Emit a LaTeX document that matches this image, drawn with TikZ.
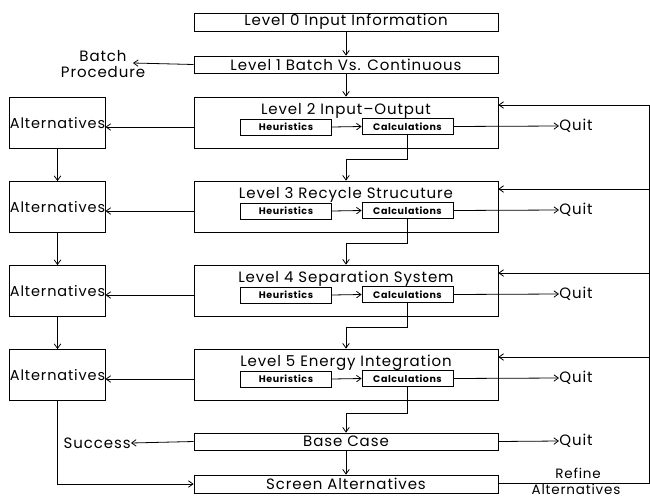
\documentclass[tikz,border=0pt]{standalone}
\usepackage{fontspec}
\setmainfont[LetterSpace=6]{Poppins}
\usetikzlibrary{arrows.meta,positioning,calc}
\begin{document}
\begin{tikzpicture}[x=1pt,y=-1pt,
  line width=0.8pt,
  >={Straight Barb[length=4.5pt,width=6.5pt]},
  lvl/.style={draw,minimum width=304pt,inner sep=0pt,font=\fontsize{15}{16}\selectfont},
  bigbox/.style={draw,minimum width=304pt,minimum height=51pt,inner sep=0pt},
  alt/.style={draw,minimum width=91pt,minimum height=51pt,inner sep=0pt,font=\fontsize{14.5}{16}\selectfont},
  small/.style={draw,minimum width=91pt,minimum height=16pt,inner sep=0pt,font=\bfseries\fontsize{9.5}{11}\selectfont},
  ttl/.style={font=\fontsize{15}{16}\selectfont,inner sep=0pt},
  lbl/.style={font=\fontsize{15}{16}\selectfont,inner sep=0pt,align=center}
]
\useasboundingbox (0,0) rectangle (650,498);
% top levels
\node[lvl,minimum height=18pt] (L0) at (346,22) {Level 0 Input Information};
\node[lvl,minimum height=17pt] (L1) at (346,64.5) {Level 1 Batch Vs. Continuous};
\node[lbl] (batch) at (103,64) {Batch\\Procedure};
\coordinate (bp) at (133,63);
% levels 2-5
\foreach \i/\y/\t in {2/122.5/Level 2 Input--Output,3/206.5/Level 3 Recycle Strucuture,4/290.5/Level 4 Separation System,5/374.5/Level 5 Energy Integration}{
  \node[bigbox] (L\i) at (346,\y) {};
  \node[ttl] (T\i) at (346,\y-11.5) {\t};
  \node[small] (H\i) at (286,\y+4.5) {Heuristics};
  \node[small] (C\i) at (407.5,\y+4) {Calculations};
  \node[alt] (A\i) at (57.5,\y+0.5) {Alternatives};
  \node[lbl,anchor=west] (Q\i) at (559,\y+3.5) {Quit};
  \coordinate (R\i) at (649,\y-17.5);
  \draw[->] (H\i.east) -- (C\i.west);
  \draw[->] (C\i.east) -- (Q\i.west);
  \draw[->] (H\i -| L\i.west) -- (H\i -| A\i.east);
  \draw[->] (R\i) -- (R\i -| L\i.east);
}
\node[lvl,minimum height=17pt] (B) at (346,441.5) {Base Case};
\node[lvl,minimum height=18pt] (S) at (346,484) {Screen Alternatives};
\node[lbl,anchor=east] (succ) at (131,443) {Success};
\node[lbl,anchor=west] (QB) at (559,441) {Quit};
\node[lbl,font=\fontsize{13.5}{15}\selectfont] (ref) at (578,473.5) {Refine};
\node[lbl,font=\fontsize{13.5}{15}\selectfont] (refa) at (576,489) {Alternatives};
\coordinate (rc) at (649,483);
% connectors
\draw[->] (L0.south) -- (L1.north);
\draw[->] (L1.south) -- (L2.north);
\draw[->] (L1.west) -- (bp);
\draw[->] (C2.south) |- ([yshift=-11pt]L2.south) -- (L3.north);
\draw[->] (C3.south) |- ([yshift=-11pt]L3.south) -- (L4.north);
\draw[->] (C4.south) |- ([yshift=-11pt]L4.south) -- (L5.north);
\draw[->] (C5.south) |- ([yshift=-13pt]L5.south) -- (B.north);
\draw[->] (A2.south) -- (A3.north);
\draw[->] (A3.south) -- (A4.north);
\draw[->] (A4.south) -- (A5.north);
\draw[->] (A5.south) |- (S.west);
\draw[->] (B.west) -- (succ.east);
\draw[->] (B.east) -- (QB.west);
\draw[->] (B.south) -- (S.north);
\draw (S.east |- rc) -- (rc) -- (R2);
\end{tikzpicture}
\end{document}
